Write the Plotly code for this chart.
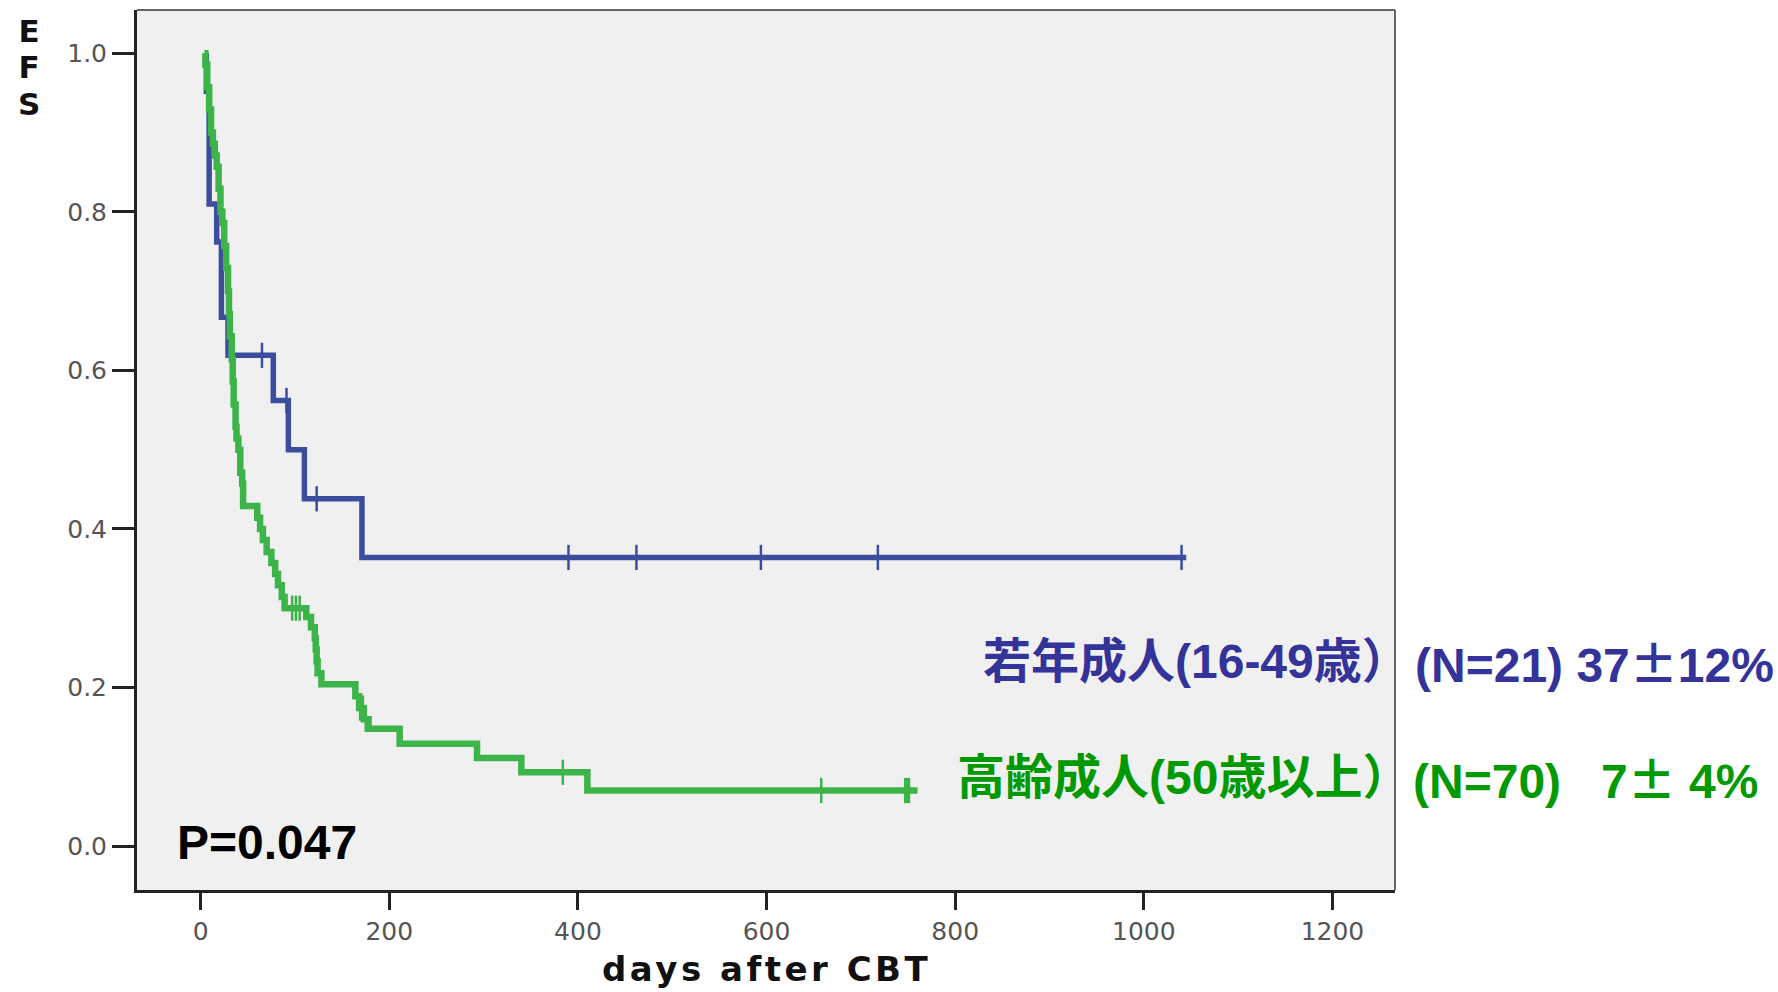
import plotly.graph_objects as go

# Event-free survival after cord blood transplantation, by age group.
# Step points: (day of drop, survival after the drop).
young_start = 6
young_event_days = [6, 9, 17, 22, 29, 77, 93, 110, 171]
young_surv = [0.952, 0.810, 0.762, 0.667, 0.619, 0.562, 0.500, 0.438, 0.364]
young_end = 1045
young_censor_days = [65, 91, 123, 390, 462, 594, 718, 1040]

old_start = 4
old_event_days = [5, 7, 9, 11, 13, 15, 17, 19, 21, 23, 25, 27, 29, 30, 31, 33, 34, 35,
                  37, 38, 40, 42, 44, 45, 60, 63, 66, 70, 75, 79, 82, 86, 89, 112, 117,
                  121, 122, 123, 124, 128, 164, 168, 173, 178, 211, 293, 340, 410]
old_surv = [0.986, 0.957, 0.929, 0.900, 0.886, 0.871, 0.857, 0.829, 0.800, 0.786, 0.757,
            0.729, 0.700, 0.671, 0.643, 0.614, 0.586, 0.557, 0.529, 0.514, 0.500, 0.471,
            0.457, 0.429, 0.414, 0.400, 0.386, 0.371, 0.357, 0.343, 0.329, 0.314, 0.300,
            0.289, 0.276, 0.262, 0.248, 0.233, 0.218, 0.204, 0.189, 0.174, 0.160, 0.148,
            0.129, 0.111, 0.093, 0.070]
old_end = 760
old_censor_days = [97, 101, 105, 169, 172, 175, 384, 658, 747, 749, 751]

y_ticks = [0.0, 0.2, 0.4, 0.6, 0.8, 1.0]
y_tick_text = ["0.0", "0.2", "0.4", "0.6", "0.8", "1.0"]
x_ticks = [0, 200, 400, 600, 800, 1000, 1200]

young_label = "若年成人(16-49歳）"
young_stat = "(N=21) 37{pm}12%"
old_label = "高齢成人(50歳以上）"
old_stat = "(N=70)\u00a0\u00a0 7{pm} 4%"
p_value_text = "P=0.047"
y_title_letters = ["E", "F", "S"]
x_title = "days after CBT"

BLUE_LINE = "#3d4d9e"
GREEN_LINE = "#3cb44a"
BLUE_TEXT = "#333399"
GREEN_TEXT = "#009900"

W, H = 1778, 992
L, R, T, B = 137, 1395, 10, 890  # plot area edges in pixels


def px_x(px):
    return (px - L) / (R - L)


def px_y(py):
    return (B - py) / (B - T)


def step_xy(start, days, surv, end):
    xs = [start] + list(days) + [end]
    ys = [1.0] + list(surv) + [surv[-1]]
    return xs, ys


def surv_at(day, days, surv):
    s = 1.0
    for d, v in zip(days, surv):
        if d <= day:
            s = v
    return s


fig = go.Figure()

for start, days, surv, end, cens, color, width in [
    (young_start, young_event_days, young_surv, young_end, young_censor_days, BLUE_LINE, 5.5),
    (old_start, old_event_days, old_surv, old_end, old_censor_days, GREEN_LINE, 6.5),
]:
    xs, ys = step_xy(start, days, surv, end)
    fig.add_trace(go.Scatter(x=xs, y=ys, mode="lines", line=dict(color=color, width=width, shape="hv"),
                             showlegend=False, hoverinfo="skip"))
    fig.add_trace(go.Scatter(x=cens, y=[surv_at(d, days, surv) for d in cens], mode="markers",
                             marker=dict(symbol="line-ns", size=18, line=dict(color=color, width=2.5)),
                             showlegend=False, hoverinfo="skip"))

tick_font = dict(family="DejaVu Sans", size=25, color="#555555")

fig.update_xaxes(range=[-67.5, 1266.3], tickvals=x_ticks, ticks="outside", ticklen=17, tickwidth=2.5,
                 tickcolor="#222222", showline=True, linecolor="#222222", linewidth=3,
                 showgrid=False, zeroline=False, tickfont=tick_font)
fig.update_yaxes(range=[-0.0555, 1.0546], tickvals=y_ticks, ticktext=y_tick_text, ticks="outside",
                 ticklen=22, tickwidth=2.5, tickcolor="#222222", showline=True, linecolor="#222222",
                 linewidth=3, showgrid=False, zeroline=False, tickfont=tick_font)

# thin frame on the top and right of the plotting area
fig.add_shape(type="line", xref="paper", yref="paper", x0=0, x1=1, y0=1, y1=1,
              line=dict(color="#666666", width=2))
fig.add_shape(type="line", xref="paper", yref="paper", x0=1, x1=1, y0=0, y1=1,
              line=dict(color="#666666", width=2))

label_family = "Liberation Sans, Noto Sans CJK JP"
pm = '<span style="font-family:Noto Sans CJK JP">±</span>'
label_size = 48

# stacked y-axis title: line pitch from the base size, glyphs drawn slightly larger
y_title = "<br>".join(f'<span style="font-size:31px">{c}</span>' for c in y_title_letters)

annotations = [
    dict(text=f"<b>{y_title}</b>", x=px_x(29), y=px_y(67), font=dict(family="DejaVu Sans", size=28, color="#111111"),
         xanchor="center", yanchor="middle"),
    dict(text=f'<b><span style="letter-spacing:3.5px">{x_title}</span></b>', x=px_x(767), y=px_y(969),
         font=dict(family="DejaVu Sans", size=34, color="#111111"), xanchor="center", yanchor="middle"),
    dict(text=f"<b>{p_value_text}</b>", x=px_x(175), y=px_y(842),
         font=dict(family="Liberation Sans", size=48, color="#000000"), xanchor="left", yanchor="middle"),
    dict(text=f"<b>{young_label}</b>", x=px_x(1412), y=px_y(661),
         font=dict(family=label_family, size=label_size, color=BLUE_TEXT), xanchor="right", yanchor="middle"),
    dict(text="<b>" + young_stat.format(pm=pm) + "</b>", x=px_x(1413), y=px_y(661),
         font=dict(family=label_family, size=label_size, color=BLUE_TEXT), xanchor="left", yanchor="middle"),
    dict(text=f"<b>{old_label}</b>", x=px_x(1412), y=px_y(777),
         font=dict(family=label_family, size=label_size, color=GREEN_TEXT), xanchor="right", yanchor="middle"),
    dict(text="<b>" + old_stat.format(pm=pm) + "</b>", x=px_x(1411), y=px_y(777),
         font=dict(family=label_family, size=label_size, color=GREEN_TEXT), xanchor="left", yanchor="middle"),
]
for a in annotations:
    a.update(xref="paper", yref="paper", showarrow=False)

fig.update_layout(
    width=W, height=H, autosize=False,
    margin=dict(l=L, r=W - R, t=T, b=H - B, pad=0),
    paper_bgcolor="white", plot_bgcolor="#f0f0f0",
    annotations=annotations,
)

fig.write_html("out.html")
